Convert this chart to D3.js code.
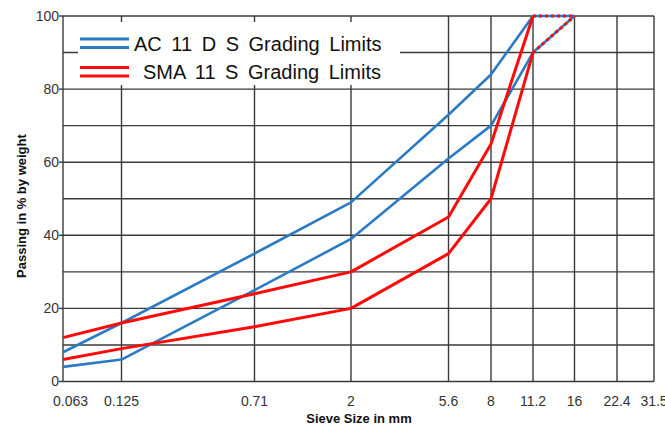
<!DOCTYPE html>
<html>
<head>
<meta charset="utf-8">
<script src="https://cdn.jsdelivr.net/npm/d3@7"></script>
<style>
  body { margin: 0; background: #fff; }
  svg { display: block; font-family: "Liberation Sans", Arial, sans-serif; }
  .grid line { stroke: #3a3a3a; stroke-width: 1.4; }
  .tick-label { font-size: 14px; fill: #333; }
  .axis-title { font-size: 13px; font-weight: bold; fill: #111; }
  .legend-text { font-size: 20px; fill: #111; white-space: pre; word-spacing: 4px; }
</style>
</head>
<body>
<svg id="chart"></svg>
<script>
// sieve sizes (mm) and grading limits (% passing)
const sieves = [0.063, 0.125, 0.71, 2, 5.6, 8, 11.2, 16];
const axisSieves = [0.063, 0.125, 0.71, 2, 5.6, 8, 11.2, 16, 22.4, 31.5];
const acUpper = [8, 16, 35, 49, 73, 84, 100, 100];
const acLower = [4, 6, 25, 39, 61, 70, 90, 100];
const smaUpper = [12, 16, 24, 30, 45, 65, 100, 100];
const smaLower = [6, 9, 15, 20, 35, 50, 90, 100];
const yTicks = [0, 20, 40, 60, 80, 100];
const seriesNames = ["AC 11 D S Grading Limits", "SMA 11 S Grading Limits"];

// the sieve axis in the original is not a clean log axis, so the tick
// spacing is taken from the picture (px from the left edge of the plot)
const sieveSpacing = [0, 58.5, 191.5, 288, 385.5, 428, 470, 511.5, 554, 591];

class GradingChart {
  constructor(_config) {
    this.config = {
      parentElement: _config.parentElement,
      containerWidth: _config.containerWidth || 665,
      containerHeight: _config.containerHeight || 428,
      margin: _config.margin || {top: 16, right: 11, bottom: 46.5, left: 63}
    };
    this.initVis();
  }

  initVis() {
    let vis = this;
    vis.width = vis.config.containerWidth - vis.config.margin.left - vis.config.margin.right;
    vis.height = vis.config.containerHeight - vis.config.margin.top - vis.config.margin.bottom;

    // piecewise scale through the sieve positions
    vis.xScale = d3.scaleLinear()
      .domain(axisSieves)
      .range(sieveSpacing);

    vis.yScale = d3.scaleLinear()
      .domain([0, 100])
      .range([vis.height, 0]);

    vis.svg = d3.select(vis.config.parentElement)
      .attr('width', vis.config.containerWidth)
      .attr('height', vis.config.containerHeight);

    vis.chart = vis.svg.append('g')
      .attr('transform', `translate(${vis.config.margin.left},${vis.config.margin.top})`);

    vis.renderVis();
  }

  renderVis() {
    let vis = this;

    // grid
    const grid = vis.chart.append('g').attr('class', 'grid');
    grid.selectAll('.hline')
      .data(d3.range(0, 101, 10))
      .join('line')
        .attr('class', 'hline')
        .attr('x1', 0)
        .attr('x2', vis.xScale(31.5))
        .attr('y1', d => vis.yScale(d))
        .attr('y2', d => vis.yScale(d));
    grid.selectAll('.vline')
      .data(axisSieves)
      .join('line')
        .attr('class', 'vline')
        .attr('x1', d => vis.xScale(d))
        .attr('x2', d => vis.xScale(d))
        .attr('y1', 0)
        .attr('y2', vis.height);
    // small outward ticks on the y axis
    grid.selectAll('.ytick')
      .data(yTicks)
      .join('line')
        .attr('class', 'ytick')
        .attr('x1', -4)
        .attr('x2', 0)
        .attr('y1', d => vis.yScale(d))
        .attr('y2', d => vis.yScale(d));

    // tick labels
    vis.chart.selectAll('.ylab')
      .data(yTicks)
      .join('text')
        .attr('class', 'tick-label ylab')
        .attr('x', -4)
        .attr('y', d => vis.yScale(d))
        .attr('dy', '0.35em')
        .attr('text-anchor', 'end')
        .text(d => d);

    vis.chart.selectAll('.xlab')
      .data(axisSieves)
      .join('text')
        .attr('class', 'tick-label xlab')
        .attr('x', d => vis.xScale(d) + (d === axisSieves[0] ? -10 : 0))
        .attr('y', vis.height + 24)
        .attr('text-anchor', d => d === axisSieves[0] ? 'start' : 'middle')
        .text(d => d);

    // axis titles
    vis.chart.append('text')
      .attr('class', 'axis-title')
      .attr('text-anchor', 'middle')
      .attr('x', vis.xScale(2) + 8)
      .attr('y', vis.height + 41)
      .text('Sieve Size in mm');

    vis.chart.append('text')
      .attr('class', 'axis-title')
      .attr('text-anchor', 'middle')
      .attr('transform', `translate(${-37},${vis.yScale(48)}) rotate(-90)`)
      .text('Passing in % by weight');

    // legend background covers the grid
    const legend = vis.chart.append('g')
      .attr('transform', `translate(15,6)`);
    legend.append('rect')
      .attr('width', 322)
      .attr('height', 63)
      .attr('fill', '#fff');

    const line = d3.line()
      .x(d => vis.xScale(d[0]))
      .y(d => vis.yScale(d[1]));

    const drawSeries = (values, color, width, dashed) => {
      const pts = sieves.map((s, i) => [s, values[i]]);
      vis.chart.append('path')
        .attr('d', line(pts.slice(0, 7)))
        .attr('fill', 'none')
        .attr('stroke', color)
        .attr('stroke-width', width)
        .attr('stroke-linejoin', 'round');
      vis.chart.append('path')
        .attr('d', line(pts.slice(6)))
        .attr('fill', 'none')
        .attr('stroke', color)
        .attr('stroke-width', width)
        .attr('stroke-dasharray', dashed ? '3,3' : null);
    };

    drawSeries(acUpper, '#2b7bc4', 2.6, false);
    drawSeries(acLower, '#2b7bc4', 2.6, false);
    drawSeries(smaUpper, '#ff0a0a', 3, true);
    drawSeries(smaLower, '#ff0a0a', 3, true);

    // legend entries with the double line
    const colors = ['#2b7bc4', '#ff0a0a'];
    seriesNames.forEach((name, i) => {
      const g = legend.append('g')
        .attr('transform', `translate(2,${17 + i * 28.5})`);
      [0, 8.5].forEach(off => {
        g.append('line')
          .attr('x1', 0).attr('x2', 49)
          .attr('y1', off).attr('y2', off)
          .attr('stroke', colors[i])
          .attr('stroke-width', 2.8);
      });
      g.append('text')
        .attr('class', 'legend-text')
        .attr('x', i === 0 ? 54 : 63)
        .attr('y', 11.5)
        .text(name);
    });
  }
}

new GradingChart({parentElement: '#chart'});
</script>
</body>
</html>
